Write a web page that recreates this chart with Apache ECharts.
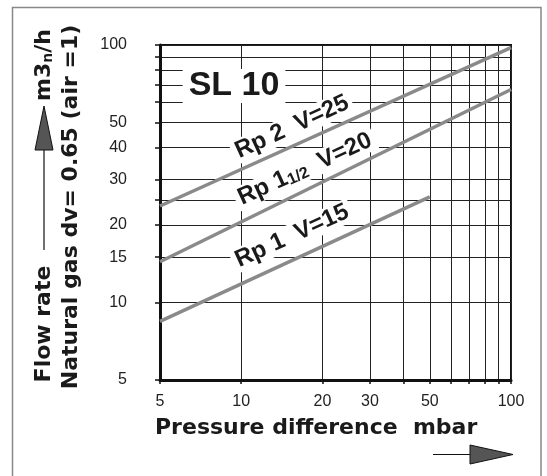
<!DOCTYPE html>
<html><head><meta charset="utf-8">
<script src="https://cdn.jsdelivr.net/npm/echarts@6/dist/echarts.min.js"></script>
<style>html,body{margin:0;padding:0;background:#fff}#c{width:547px;height:476px}</style>
</head><body><div id="c"></div>
<script>
// ---- data ----
const xTickValues = [5, 10, 20, 30, 40, 50, 60, 70, 80, 90, 100];
const xLabelValues = [5, 10, 20, 30, 50, 100];
const yTickValues = [5, 10, 15, 20, 25, 30, 40, 50, 60, 70, 80, 90, 100];
const yLabelValues = [5, 10, 15, 20, 30, 40, 50, 100];
const rp2 = [[5, 23.7], [100, 97.6]];
const rp15 = [[5, 14.4], [100, 67.2]];
const rp1 = [[5, 8.45], [50, 25.7]];
const lineLabels = ['Rp 2  V=25', 'Rp 1{s|1/2}  V=20', 'Rp 1  V=15'];
const chartTitle = 'SL 10';
const xTitle = 'Pressure difference  mbar';
const yTitle1 = 'Flow rate';
const yUnit = 'm3{s|n}/h';
const yTitle2 = 'Natural gas dv= 0.65 (air =1)';

const chart = echarts.init(document.getElementById('c'), null, {renderer: 'canvas'});
const ink = '#1a1a1a';
const ang = 24.5 * Math.PI / 180;
const boldWide = '"DejaVu Sans"';
const helv = '"Liberation Sans", Arial, sans-serif';
const lineStyle = {color: '#8a8a8a', width: 3.5};

function lineLabel(text, x, y) {
  return {
    type: 'text', x: x, y: y, rotation: ang, z: 1,
    style: {
      text: text, fontFamily: helv, fontWeight: 'bold', fontSize: 24, fill: ink,
      align: 'center', verticalAlign: 'middle', backgroundColor: '#fff', padding: [0, 4], lineHeight: 24,
      rich: {s: {fontFamily: helv, fontWeight: 'bold', fontSize: 16, fill: ink, verticalAlign: 'bottom', lineHeight: 20}}
    }
  };
}

const axisCommon = {
  type: 'log', logBase: 10, min: 5, max: 100,
  axisLine: {show: true, onZero: false, lineStyle: {color: '#111', width: 3}},
  splitLine: {show: true, lineStyle: {color: '#222', width: 1}},
};

chart.setOption({
  animation: false,
  backgroundColor: '#fff',
  grid: {left: 160, top: 45, width: 351, height: 335, show: true, borderColor: '#111', borderWidth: 2, backgroundColor: 'transparent'},
  xAxis: Object.assign({}, axisCommon, {
    axisTick: {show: true, inside: false, length: 4, customValues: xTickValues, lineStyle: {color: '#111', width: 1.5}},
    axisLabel: {customValues: xLabelValues, margin: 14, fontSize: 16, fontFamily: 'Liberation Sans', color: '#222'}
  }),
  yAxis: Object.assign({}, axisCommon, {
    axisTick: {show: true, inside: false, length: 5, customValues: yTickValues, lineStyle: {color: '#111', width: 1.5}},
    axisLabel: {customValues: yLabelValues, margin: 33, fontSize: 16, fontFamily: 'Liberation Sans', color: '#222'}
  }),
  series: [
    {type: 'line', name: 'Rp 2', data: rp2, symbol: 'none', lineStyle: lineStyle, silent: true, z: 3},
    {type: 'line', name: 'Rp 1 1/2', data: rp15, symbol: 'none', lineStyle: lineStyle, silent: true, z: 3},
    {type: 'line', name: 'Rp 1', data: rp1, symbol: 'none', lineStyle: lineStyle, silent: true, z: 3}
  ],
  graphic: [
    {type: 'rect', shape: {x: 12.5, y: 7.5, width: 528.5, height: 520}, style: {fill: 'none', stroke: '#888', lineWidth: 1.5}, z: 0},
    {type: 'text', x: 234, y: 86, z: 1, style: {text: chartTitle, fontFamily: helv, fontWeight: 'bold', fontSize: 34, fill: ink,
      align: 'center', verticalAlign: 'middle', backgroundColor: '#fff', padding: [0, 6, 4, 6], lineHeight: 30}},
    lineLabel(lineLabels[0], 292, 127),
    lineLabel(lineLabels[1], 305, 169),
    lineLabel(lineLabels[2], 292, 236),
    // x title + arrow
    {type: 'text', x: 155, y: 428, style: {text: xTitle, fontFamily: boldWide, fontWeight: 'bold', fontSize: 22, fill: ink, align: 'left', verticalAlign: 'middle'}},
    {type: 'line', shape: {x1: 433, y1: 454.5, x2: 470, y2: 454.5}, style: {stroke: '#111', lineWidth: 1.2}},
    {type: 'polygon', shape: {points: [[470, 445], [470, 464], [513, 454.5]]}, style: {fill: '#555', stroke: '#111', lineWidth: 1}},
    // y titles + arrow
    {type: 'text', x: 44, y: 324, rotation: Math.PI / 2, style: {text: yTitle1, fontFamily: boldWide, fontWeight: 'bold', fontSize: 22, fill: ink, align: 'center', verticalAlign: 'middle'}},
    {type: 'line', shape: {x1: 44, y1: 250, x2: 44, y2: 150}, style: {stroke: '#111', lineWidth: 1.2}},
    {type: 'polygon', shape: {points: [[35, 150], [53, 150], [44, 106]]}, style: {fill: '#555', stroke: '#111', lineWidth: 1}},
    {type: 'text', x: 44, y: 65, rotation: Math.PI / 2, style: {text: yUnit, fontFamily: boldWide, fontWeight: 'bold', fontSize: 22, fill: ink, align: 'center', verticalAlign: 'middle',
      rich: {s: {fontFamily: boldWide, fontWeight: 'bold', fontSize: 14, fill: ink, verticalAlign: 'bottom'}}}},
    {type: 'text', x: 71, y: 207, rotation: Math.PI / 2, style: {text: yTitle2, fontFamily: boldWide, fontWeight: 'bold', fontSize: 22, fill: ink, align: 'center', verticalAlign: 'middle'}}
  ]
});
</script>
</body></html>
